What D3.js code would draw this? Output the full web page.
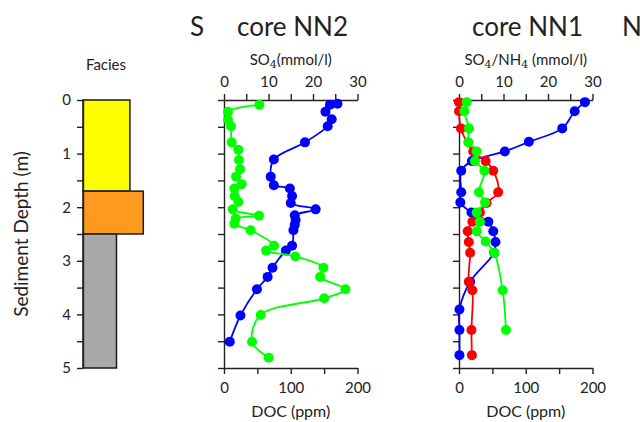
<!DOCTYPE html>
<html>
<head>
<meta charset="utf-8">
<script src="https://cdn.jsdelivr.net/npm/d3@7"></script>
<style>
  body { margin: 0; background: #fff; }
  svg { display: block; font-family: Lato, "Open Sans", sans-serif; }
  .axis path, .axis line { stroke: #222; stroke-width: 1.4; }
  .axis text { font-family: Lato, sans-serif; font-size: 15px; fill: #222; }
</style>
</head>
<body>
<div id="chart"></div>
<script>
// facies layers (depth in m, grain index sets bar width)
const faciesTop = [0, 1.7, 2.5]
const faciesBottom = [1.7, 2.5, 5]
const faciesGrain = [3.5, 4.5, 2.5]
const faciesColor = ['#ffff00', '#ff9a1e', '#a9a9ab']

// core NN2
const nn2SO4Depth = [0.07, 0.09, 0.22, 0.36, 0.49, 0.79, 1.11, 1.43, 1.59, 1.65, 1.79, 1.92, 2.04, 2.15, 2.24, 2.33, 2.43, 2.72, 2.81, 3.13, 3.30, 3.53, 4.02, 4.51]
const nn2SO4 = [25.5, 23.8, 22.8, 24.2, 23.3, 18.2, 11.2, 10.5, 11.2, 14.8, 15.3, 15.0, 20.6, 15.9, 16.1, 15.9, 15.6, 15.3, 13.9, 10.9, 9.8, 7.4, 3.7, 1.3]
const nn2DOCDepth = [0.09, 0.22, 0.37, 0.49, 0.79, 0.93, 1.12, 1.29, 1.43, 1.57, 1.65, 1.79, 1.90, 2.04, 2.16, 2.21, 2.31, 2.43, 2.72, 2.81, 2.92, 3.13, 3.30, 3.53, 3.70, 4.01, 4.51, 4.81]
const nn2DOC = [53, 6, 6, 10.5, 11.5, 21.5, 22.5, 24, 18, 26.5, 15.5, 16, 21.5, 13, 52.4, 17.5, 15.5, 40, 75, 63, 107, 149, 144, 182, 150, 55, 42, 67]

// core NN1
const nn1SO4Depth = [0.04, 0.21, 0.53, 0.78, 0.96, 1.14, 1.32, 1.72, 1.91, 2.10, 2.27, 2.45, 2.65, 2.85, 3.39, 3.91, 4.29, 4.76]
const nn1SO4 = [28.3, 26.0, 23.2, 15.7, 10.3, 2.9, 0.5, 0.5, 0.3, 2.8, 6.6, 7.7, 8.2, 7.9, 2.5, 0.1, 0.1, 0.1]
const nn1NH4Depth = [0.04, 0.21, 0.53, 0.96, 1.14, 1.32, 1.72, 1.92, 2.10, 2.27, 2.45, 2.65, 2.85, 3.39, 3.55, 4.29, 4.76]
const nn1NH4 = [0, 0, 0.45, 3.2, 6.0, 7.7, 8.8, 6.2, 4.7, 3.0, 1.95, 2.2, 2.5, 2.2, 3.0, 2.8, 2.9]
const nn1DOCDepth = [0.04, 0.21, 0.53, 0.79, 0.96, 1.14, 1.32, 1.72, 1.91, 2.10, 2.27, 2.45, 2.64, 2.85, 3.55, 4.29]
const nn1DOC = [11.5, 8, 15, 14, 26.5, 24, 38, 30, 39, 26.5, 31.4, 26.5, 40, 52.8, 65.4, 70.4]

// ticks
const depthTicks = [0, 0.5, 1, 1.5, 2, 2.5, 3, 3.5, 4, 4.5, 5]
const concTicks = [0, 5, 10, 15, 20, 25, 30]
const docTicks = [0, 50, 100, 150, 200]

var width = 640, height = 422

var svg = d3.select('#chart').append('svg')
    .attr('width', width)
    .attr('height', height)

var y = d3.scaleLinear().domain([0, 5]).range([100, 368])

// ---------- facies column
var fx = d3.scaleLinear().domain([0, 5]).range([83, 150])

svg.append('g')
    .selectAll('rect')
    .data(faciesTop)
    .join('rect')
    .attr('x', fx(0))
    .attr('y', d => y(d))
    .attr('width', (d, i) => fx(faciesGrain[i]) - fx(0))
    .attr('height', (d, i) => y(faciesBottom[i]) - y(d))
    .style('fill', (d, i) => faciesColor[i])
    .style('stroke', '#1a1a1a')
    .style('stroke-width', 1.5)

svg.append('g')
    .classed('axis', true)
    .attr('transform', 'translate(' + fx(0) + ',0)')
    .call(d3.axisLeft(y)
        .tickValues(depthTicks)
        .tickSize(6)
        .tickSizeOuter(0)
        .tickFormat(d => Number.isInteger(d) ? d : ''))
    .call(g => g.selectAll('text').attr('dx', '-3'))

svg.append('text')
    .attr('x', 106).attr('y', 70)
    .attr('text-anchor', 'middle')
    .style('font-size', '15px').style('fill', '#222')
    .text('Facies')

svg.append('text')
    .attr('transform', 'translate(28,234) rotate(-90)')
    .attr('text-anchor', 'middle')
    .style('font-size', '19px').style('fill', '#222')
    .text('Sediment Depth (m)')

// ---------- depth profile panels
var line = d3.line().curve(d3.curveCatmullRom.alpha(0.5))

function panel(x0, x1, title, series){
    var xc = d3.scaleLinear().domain([0, 30]).range([x0, x1]),
        xd = d3.scaleLinear().domain([0, 200]).range([x0, x1]);

    svg.append('g')
        .classed('axis', true)
        .attr('transform', 'translate(0,' + y(0) + ')')
        .call(d3.axisTop(xc)
            .tickValues(concTicks)
            .tickSize(6)
            .tickSizeOuter(0)
            .tickFormat(d => d % 10 == 0 ? d : ''))
        .call(g => g.selectAll('text').attr('dy', '-0.25em'))

    svg.append('g')
        .classed('axis', true)
        .attr('transform', 'translate(0,' + y(5) + ')')
        .call(d3.axisBottom(xd)
            .tickValues(docTicks)
            .tickSize(6)
            .tickSizeOuter(0)
            .tickFormat(d => d % 100 == 0 ? d : ''))
        .call(g => g.selectAll('text').attr('dy', '1.05em'))

    svg.append('g')
        .classed('axis', true)
        .attr('transform', 'translate(' + x0 + ',0)')
        .call(d3.axisLeft(y)
            .tickValues(depthTicks)
            .tickSize(6)
            .tickSizeOuter(0)
            .tickFormat(''))

    // x axis title on top
    var t = svg.append('text')
        .attr('x', (x0 + x1) / 2).attr('y', 65)
        .attr('text-anchor', 'middle')
        .style('font-size', '15px').style('fill', '#222')
    title.forEach(function(part){
        var s = t.append('tspan').text(part[0])
        if(part[1]){
            s.style('font-size', '11px')
             .style('font-family', '"DejaVu Serif", serif')
             .attr('dy', 3)
        } else if(part[2]){
            s.attr('dy', -3)
        }
    })

    svg.append('text')
        .attr('x', (x0 + x1) / 2).attr('y', 417)
        .attr('text-anchor', 'middle')
        .style('font-size', '16px').style('fill', '#222')
        .text('DOC (ppm)')

    series.forEach(function(s){
        var xs = s.scale == 'doc' ? xd : xc,
            pts = s.depth.map((d, i) => [xs(s.values[i]), y(d)]);
        var g = svg.append('g')
        g.append('path')
            .attr('d', line(pts))
            .style('fill', 'none')
            .style('stroke', s.color)
            .style('stroke-width', 1.8)
        g.selectAll('circle')
            .data(pts)
            .join('circle')
            .attr('cx', d => d[0])
            .attr('cy', d => d[1])
            .attr('r', 5)
            .style('fill', s.color)
    })
}

panel(224, 357.5,
    [['SO'], ['4', true], ['(mmol/l)', false, true]],
    [{depth: nn2SO4Depth, values: nn2SO4, scale: 'conc', color: '#0000ff'},
     {depth: nn2DOCDepth, values: nn2DOC, scale: 'doc', color: '#00ff00'}])

panel(459, 592.5,
    [['SO'], ['4', true], ['/NH', false, true], ['4', true], [' (mmol/l)', false, true]],
    [{depth: nn1SO4Depth, values: nn1SO4, scale: 'conc', color: '#0000ff'},
     {depth: nn1NH4Depth, values: nn1NH4, scale: 'conc', color: '#ff0000'},
     {depth: nn1DOCDepth, values: nn1DOC, scale: 'doc', color: '#00ff00'}])

// panel titles across the top (the outer ones are cut by the figure edge)
const titleText = ['S', 'core NN2', 'core NN1', 'N']
const titleX = [190, 237, 472, 622]
svg.append('g')
    .selectAll('text')
    .data(titleText)
    .join('text')
    .attr('x', (d, i) => titleX[i])
    .attr('y', 36)
    .style('font-size', '26px')
    .style('fill', '#222')
    .text(d => d)
</script>
</body>
</html>
